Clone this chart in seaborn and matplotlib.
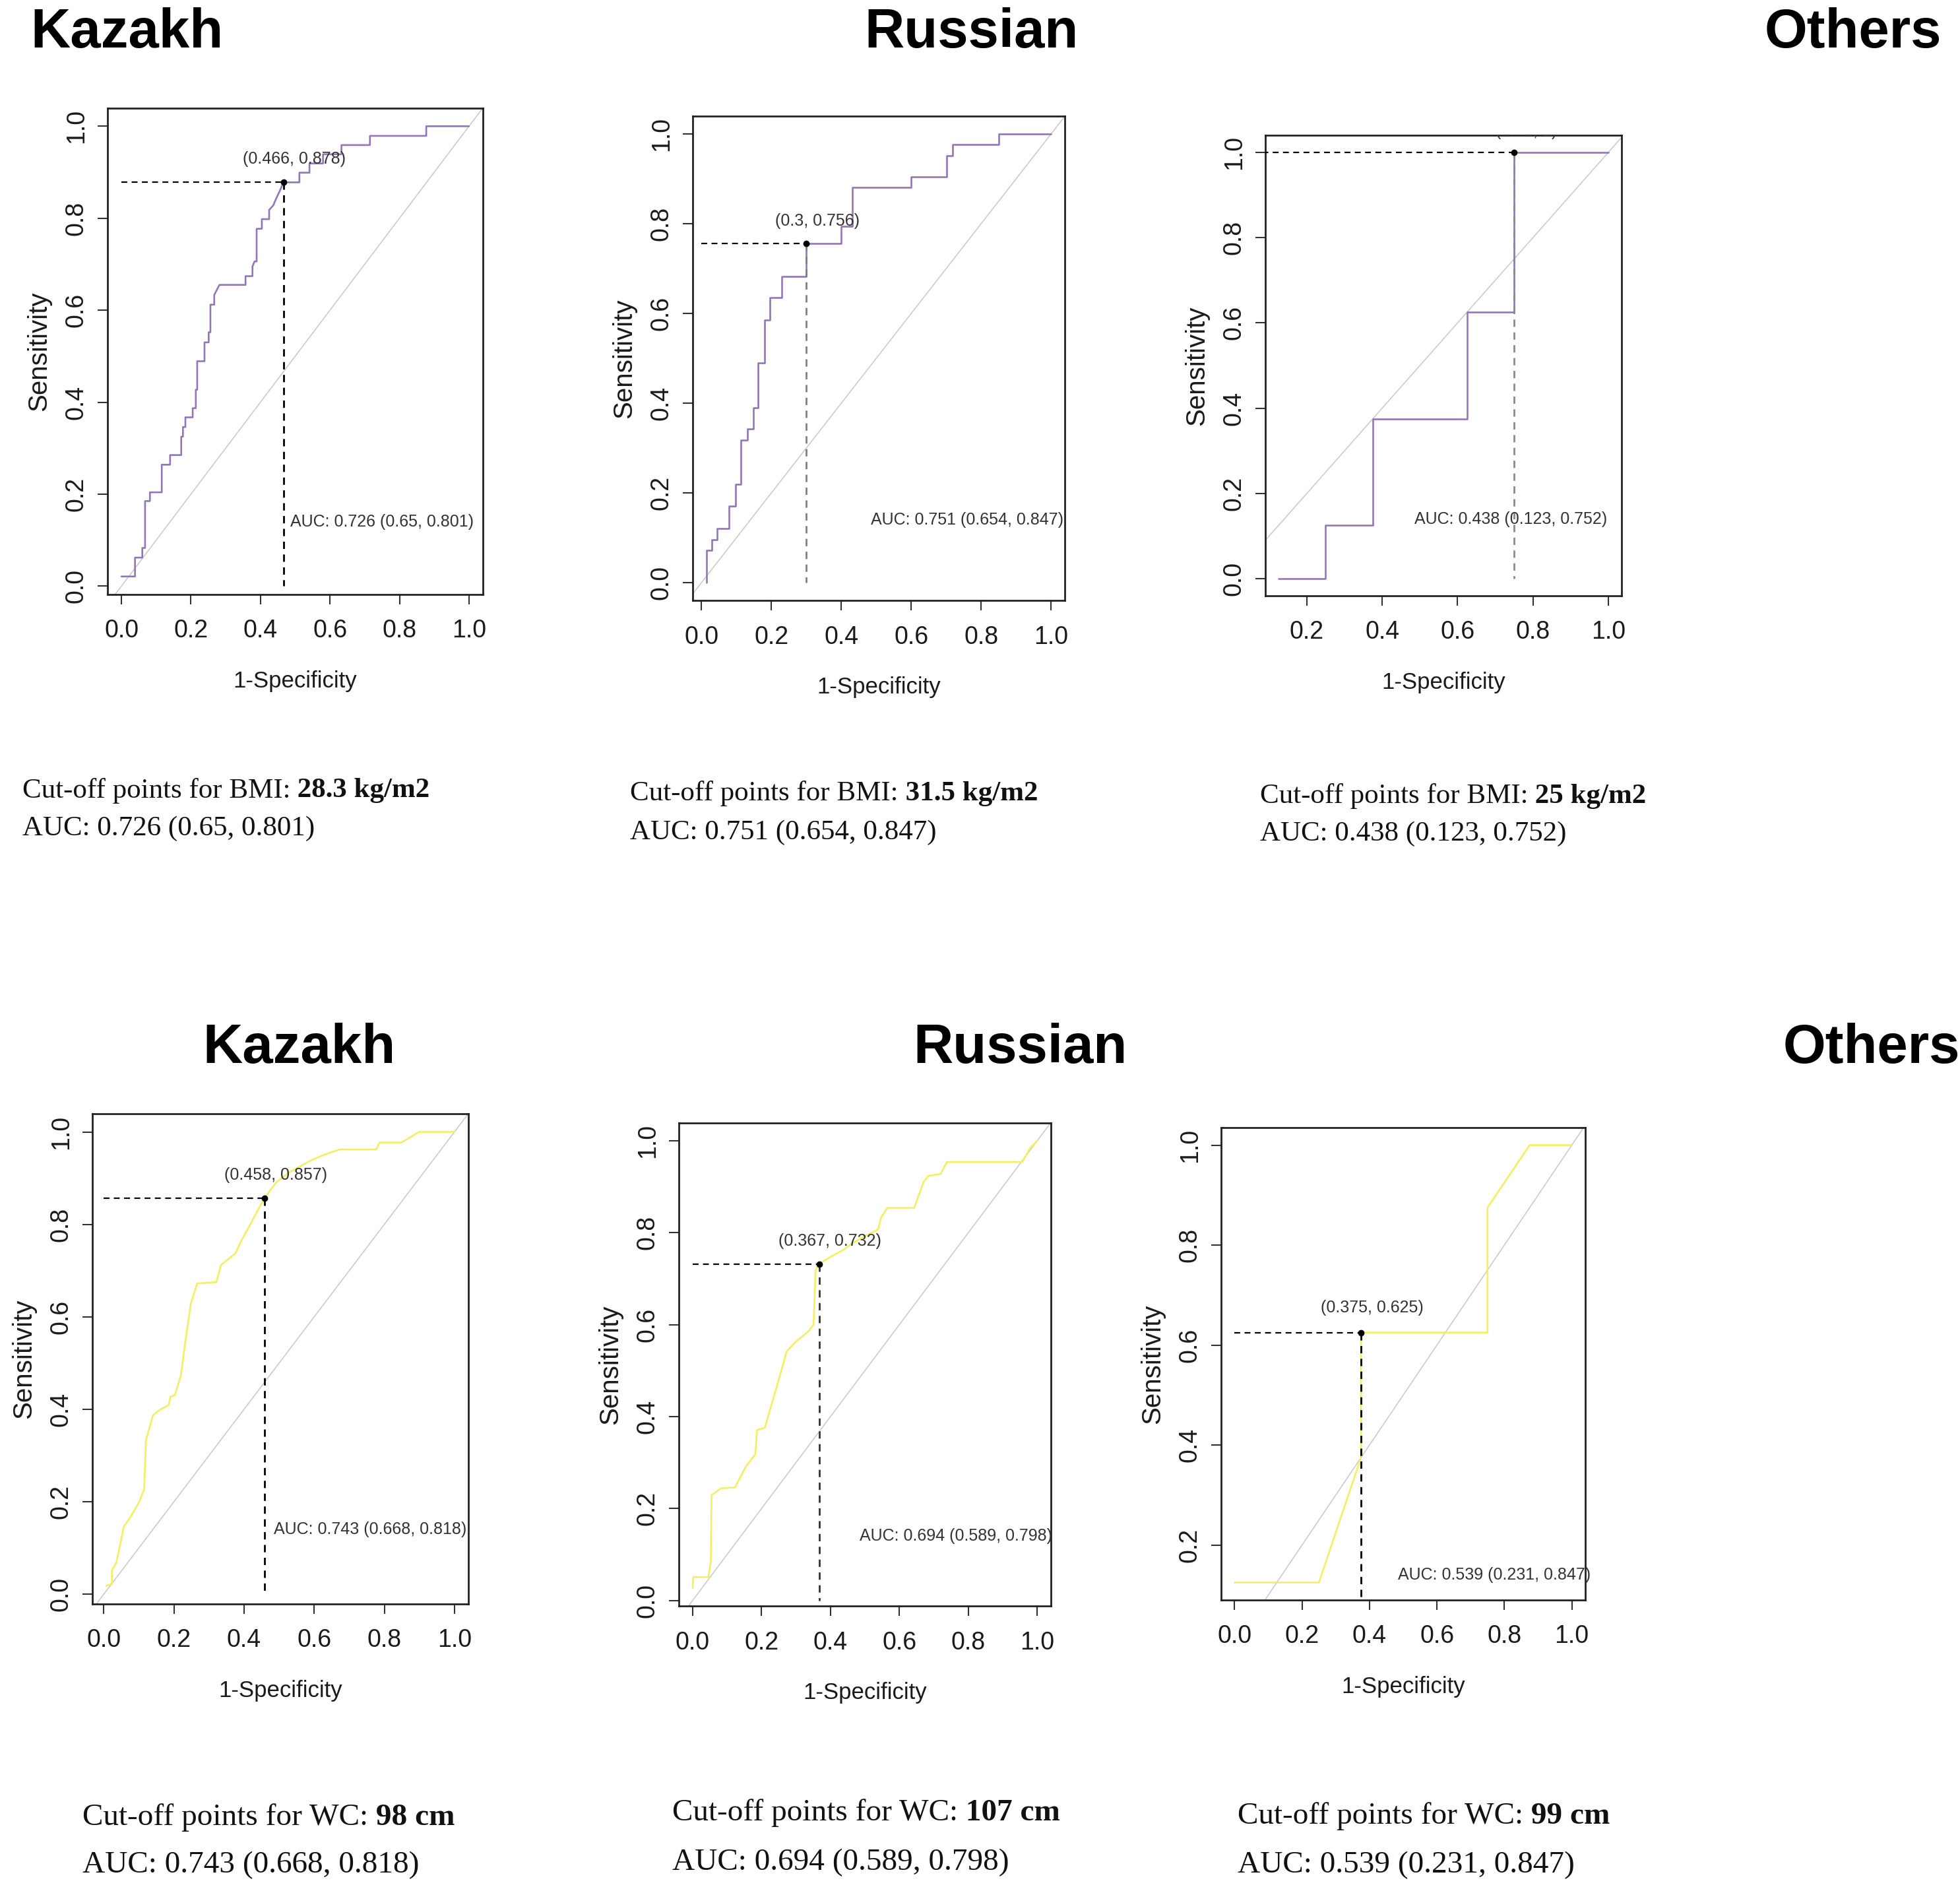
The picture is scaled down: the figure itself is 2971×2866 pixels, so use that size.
import matplotlib
matplotlib.use("Agg")
import matplotlib.pyplot as plt
import seaborn as sns
import numpy as np

# ---- data (ROC vertices, 1-specificity vs sensitivity) ----
groups = ["Kazakh", "Russian", "Others"]

kaz_bmi_fpr = [0, 0.039, 0.039, 0.06, 0.06, 0.068, 0.068, 0.082, 0.082, 0.116, 0.116, 0.14, 0.14,
               0.172, 0.172, 0.177, 0.177, 0.184, 0.184, 0.205, 0.205, 0.214, 0.214, 0.218, 0.218,
               0.239, 0.239, 0.251, 0.251, 0.256, 0.256, 0.267, 0.267, 0.275, 0.282, 0.357, 0.357,
               0.377, 0.377, 0.383, 0.389, 0.389, 0.404, 0.404, 0.425, 0.425, 0.437, 0.443, 0.449,
               0.456, 0.466, 0.512, 0.512, 0.541, 0.541, 0.58, 0.58, 0.633, 0.633, 0.715, 0.715,
               0.877, 0.877, 1.0]
kaz_bmi_tpr = [0.021, 0.021, 0.062, 0.062, 0.083, 0.083, 0.185, 0.185, 0.204, 0.204, 0.264, 0.264, 0.285,
               0.285, 0.325, 0.325, 0.346, 0.346, 0.367, 0.367, 0.387, 0.387, 0.427, 0.427, 0.489,
               0.489, 0.53, 0.53, 0.552, 0.552, 0.612, 0.612, 0.633, 0.645, 0.655, 0.655, 0.674,
               0.674, 0.695, 0.706, 0.706, 0.777, 0.777, 0.798, 0.798, 0.818, 0.828, 0.839, 0.849,
               0.86, 0.878, 0.878, 0.899, 0.899, 0.919, 0.919, 0.939, 0.939, 0.959, 0.959, 0.979,
               0.979, 1.0, 1.0]

rus_bmi_fpr = [0.014, 0.014, 0.03, 0.03, 0.045, 0.045, 0.079, 0.079, 0.097, 0.097, 0.113, 0.113,
               0.131, 0.131, 0.149, 0.149, 0.161, 0.161, 0.181, 0.181, 0.196, 0.196, 0.23, 0.23,
               0.3, 0.3, 0.399, 0.399, 0.432, 0.432, 0.599, 0.599, 0.702, 0.702, 0.718, 0.718,
               0.851, 0.851, 1.0]
rus_bmi_tpr = [0.0, 0.072, 0.072, 0.096, 0.096, 0.121, 0.121, 0.171, 0.171, 0.219, 0.219, 0.318,
               0.318, 0.342, 0.342, 0.39, 0.39, 0.489, 0.489, 0.586, 0.586, 0.636, 0.636, 0.682,
               0.682, 0.756, 0.756, 0.794, 0.794, 0.881, 0.881, 0.904, 0.904, 0.952, 0.952, 0.976,
               0.976, 1.0, 1.0]

oth_bmi_fpr = [0.125, 0.25, 0.25, 0.375, 0.375, 0.625, 0.625, 0.75, 0.75, 1.0]
oth_bmi_tpr = [0.0, 0.0, 0.125, 0.125, 0.375, 0.375, 0.625, 0.625, 1.0, 1.0]

kaz_wc_fpr = [0.007, 0.023, 0.023, 0.036, 0.057, 0.077, 0.099, 0.115, 0.12, 0.14, 0.158, 0.185,
              0.19, 0.203, 0.22, 0.23, 0.248, 0.266, 0.321, 0.334, 0.375, 0.393, 0.42, 0.458,
              0.492, 0.528, 0.565, 0.601, 0.637, 0.673, 0.777, 0.786, 0.849, 0.899, 1.0]
kaz_wc_tpr = [0.018, 0.022, 0.051, 0.069, 0.146, 0.168, 0.197, 0.226, 0.332, 0.387, 0.398, 0.409,
              0.427, 0.431, 0.474, 0.533, 0.628, 0.672, 0.675, 0.712, 0.737, 0.766, 0.803, 0.857,
              0.891, 0.912, 0.928, 0.942, 0.953, 0.962, 0.962, 0.977, 0.977, 1.0, 1.0]

rus_wc_fpr = [0.0, 0.002, 0.046, 0.053, 0.055, 0.082, 0.123, 0.155, 0.182, 0.187, 0.21, 0.228,
              0.251, 0.273, 0.301, 0.337, 0.351, 0.357, 0.367, 0.401, 0.438, 0.465, 0.501, 0.538,
              0.547, 0.565, 0.643, 0.67, 0.684, 0.72, 0.738, 0.957, 0.98, 1.0]
rus_wc_tpr = [0.027, 0.051, 0.051, 0.086, 0.229, 0.244, 0.246, 0.292, 0.318, 0.371, 0.376, 0.424,
              0.483, 0.542, 0.564, 0.586, 0.601, 0.718, 0.732, 0.748, 0.763, 0.778, 0.793, 0.807,
              0.833, 0.854, 0.854, 0.91, 0.924, 0.928, 0.954, 0.954, 0.985, 1.0]

oth_wc_fpr = [0.0, 0.25, 0.375, 0.375, 0.75, 0.75, 0.875, 1.0]
oth_wc_tpr = [0.125, 0.125, 0.375, 0.625, 0.625, 0.875, 1.0, 1.0]

# best thresholds (1-spec, sens)
bmi_best = [(0.466, 0.878), (0.3, 0.756), (0.75, 1.0)]
wc_best = [(0.458, 0.857), (0.367, 0.732), (0.375, 0.625)]

# AUC with 95% CI
bmi_auc = [(0.726, 0.65, 0.801), (0.751, 0.654, 0.847), (0.438, 0.123, 0.752)]
wc_auc = [(0.743, 0.668, 0.818), (0.694, 0.589, 0.798), (0.539, 0.231, 0.847)]

bmi_cutoffs = ["28.3", "31.5", "25"]
wc_cutoffs = ["98", "107", "99"]

# ---- layout (pixel boxes in the 2971x2866 canvas) ----
W, H = 2971, 2866
top_boxes = [(163, 164, 732, 901), (1050, 176, 1614, 910), (1918, 205, 2458, 903)]
bot_boxes = [(140, 1688, 710, 2431), (1029, 1702, 1593, 2434), (1851, 1709, 2403, 2425)]
top_titles_x = [192, 1473, 2809]
bot_titles_x = [453, 1547, 2837]
top_text_xy = [(34, 1198, 1256), (955, 1203, 1262), (1910, 1207, 1264)]
bot_text_xy = [(125, 2755, 2827), (1019, 2748, 2823), (1876, 2753, 2827)]
vdash_col_top = ["black", "#808080", "#8a8a8a"]
vdash_col_bot = ["black", "#333333", "black"]

PURPLE = "#9277b8"
YELLOW = "#f2f062"

sns.set_theme(style="white")
SANS = ["Liberation Sans", "DejaVu Sans"]
SERIF = ["Liberation Serif", "DejaVu Serif"]
plt.rcParams["font.family"] = SANS
plt.rcParams["text.color"] = "black"

fig = plt.figure(figsize=(W / 100, H / 100), dpi=100)


def fx(x):
    return x / W


def fy(y):
    return 1 - y / H


def roc_panel(box, fpr, tpr, color, best, auc, vcol):
    l, t, r, b = box
    ax = fig.add_axes([fx(l), fy(b), (r - l) / W, (b - t) / H])
    # R style limits: data range + 4%
    x0, x1 = min(fpr), max(fpr)
    y0, y1 = min(tpr), max(tpr)
    dx, dy = 0.04 * (x1 - x0), 0.04 * (y1 - y0)
    ax.set_xlim(x0 - dx, x1 + dx)
    ax.set_ylim(y0 - dy, y1 + dy)

    ax.axline((0, 0), (1, 1), color="#cccccc", lw=1.2, zorder=1)
    sns.lineplot(x=fpr, y=tpr, sort=False, estimator=None, color=color, lw=1.9, ax=ax, zorder=3)

    bx, by = best
    ax.plot([0, bx], [by, by], ls=(0, (4, 3)), color="black", lw=1.6, zorder=4)
    ax.plot([bx, bx], [by, 0], ls=(0, (4, 3)), color=vcol, lw=2.0, zorder=4)
    ax.plot([bx], [by], "o", color="black", ms=6, zorder=5)
    ax.text(bx + 0.032, by + 0.05, f"({bx:g}, {by:g})", ha="center", va="center",
            fontsize=18, color="#333333", clip_on=True, zorder=6)
    a, lo, hi = auc
    ax.text(0.485, 0.14, f"AUC: {a:g} ({lo:g}, {hi:g})", ha="left", va="center",
            fontsize=18, color="#333333", zorder=6)

    ticks = [v for v in np.round(np.arange(0, 1.01, 0.2), 1) if x0 - dx <= v <= x1 + dx]
    ax.set_xticks(ticks)
    ax.set_xticklabels([f"{v:.1f}" for v in ticks])
    yt = [v for v in np.round(np.arange(0, 1.01, 0.2), 1) if y0 - dy <= v <= y1 + dy]
    ax.set_yticks(yt)
    ax.set_yticklabels([f"{v:.1f}" for v in yt], rotation=90, va="center")
    ax.tick_params(axis="both", direction="out", length=11, width=1.5, color="#333333",
                   labelsize=27, labelcolor="#1a1a1a", bottom=True, left=True)
    ax.tick_params(axis="x", pad=16)
    ax.tick_params(axis="y", pad=10)
    ax.set_xlabel("1-Specificity", fontsize=25, color="#1a1a1a", labelpad=30)
    ax.set_ylabel("Sensitivity", fontsize=29, color="#1a1a1a", labelpad=14)
    for s in ax.spines.values():
        s.set_visible(True)
        s.set_color("#222222")
        s.set_linewidth(2)
    ax.set_facecolor("white")
    return ax


renderer = fig.canvas.get_renderer()


def cutoff_text(x, y1, y2, label, value, unit, auc, size):
    t = fig.text(fx(x), fy(y1), f"Cut-off points for {label}:", family=SERIF, fontsize=size,
                 ha="left", va="center", color="#111111")
    bb = t.get_window_extent(renderer)
    fig.text(bb.x1 / W, fy(y1), f" {value} {unit}", family=SERIF, fontsize=size,
             fontweight="bold", ha="left", va="center", color="#111111")
    a, lo, hi = auc
    fig.text(fx(x), fy(y2), f"AUC: {a:g} ({lo:g}, {hi:g})", family=SERIF, fontsize=size,
             ha="left", va="center", color="#111111")


bmi_fpr = [kaz_bmi_fpr, rus_bmi_fpr, oth_bmi_fpr]
bmi_tpr = [kaz_bmi_tpr, rus_bmi_tpr, oth_bmi_tpr]
wc_fpr = [kaz_wc_fpr, rus_wc_fpr, oth_wc_fpr]
wc_tpr = [kaz_wc_tpr, rus_wc_tpr, oth_wc_tpr]

for i, g in enumerate(groups):
    roc_panel(top_boxes[i], bmi_fpr[i], bmi_tpr[i], PURPLE, bmi_best[i], bmi_auc[i], vdash_col_top[i])
    roc_panel(bot_boxes[i], wc_fpr[i], wc_tpr[i], YELLOW, wc_best[i], wc_auc[i], vdash_col_bot[i])

    fig.text(fx(top_titles_x[i]), fy(72), g, family=SANS, color="black",
             fontweight="bold", fontsize=60, ha="center", va="baseline")
    fig.text(fx(bot_titles_x[i]), fy(1611), g, family=SANS, color="black",
             fontweight="bold", fontsize=60, ha="center", va="baseline")

    x, y1, y2 = top_text_xy[i]
    cutoff_text(x, y1, y2, "BMI", bmi_cutoffs[i], "kg/m2", bmi_auc[i], 31)
    x, y1, y2 = bot_text_xy[i]
    cutoff_text(x, y1, y2, "WC", wc_cutoffs[i], "cm", wc_auc[i], 34)

fig.savefig("out.png", dpi=100, facecolor="white")
